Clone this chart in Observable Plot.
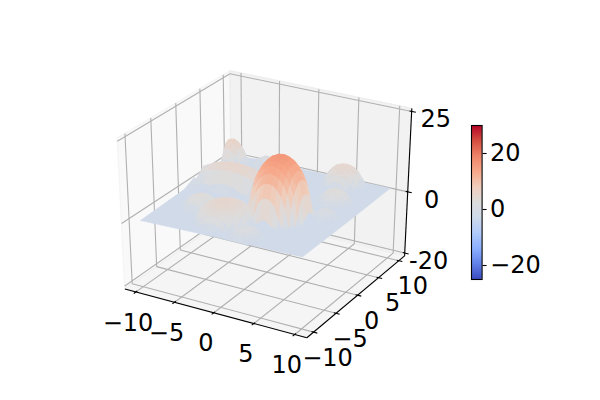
<!DOCTYPE html>
<html>
<head>
<meta charset="utf-8">
<style>
html,body{margin:0;padding:0;background:#fff}
#wrap{position:relative;width:600px;height:400px;overflow:hidden;font-family:"DejaVu Sans"}
#wrap svg{position:absolute;overflow:visible}
#wrap svg text{font-family:"DejaVu Sans"}
</style>
<script src="https://cdn.jsdelivr.net/npm/d3@7"></script>
<script src="https://cdn.jsdelivr.net/npm/@observablehq/plot@0.6"></script>
</head>
<body>
<div id="wrap"></div>
<script>
// Flat part of the surface
const planeX = [-10,0,10];
const planeY = [-10,0,10];
const planeZ = [[0.3,1,1.5],[1,1,1.5],[1,1.5,1.8]];
const b = 1;
// Bumps of the surface, heights
const xsA = [-1,-.5,0,.5,1,1.5,2,2.5,3,3.5,4,4.5,5,5.5,6];
const ysA = [-5,-4.5,-4,-3.5,-3,-2.5,-2,-1.5,-1,-.5,0,.5,1,1.5,2];
const zsA = [
[b,b,b,b,b,b,2,3,2,b,b,b,b,b,b],
[b,b,b,b,3.1,7,8.5,8.9,8.5,7,3.1,b,b,b,b],
[b,b,b,6.4,9.8,11.6,12.6,12.9,12.6,11.6,9.8,6.4,b,b,b],
[b,b,6.4,10.5,12.9,14.3,15.1,15.4,15.1,14.3,12.9,10.5,6.4,b,b],
[b,3.1,9.8,12.9,14.8,16.1,16.8,17,16.8,16.1,14.8,12.9,9.8,3.1,b],
[2,7,11.6,14.3,16.1,17.3,17.9,18.2,17.9,17.3,16.1,14.3,11.6,7,2],
[3,8.5,12.6,15.1,16.8,17.9,18.6,18.8,18.6,17.9,16.8,15.1,12.6,8.5,3],
[3.5,8.9,12.9,15.4,17,18.2,18.8,19,18.8,18.2,17,15.4,12.9,8.9,3.5],
[3,8.5,12.6,15.1,16.8,17.9,18.6,18.8,18.6,17.9,16.8,15.1,12.6,8.5,3],
[2,7,11.6,14.3,16.1,17.3,17.9,18.2,17.9,17.3,16.1,14.3,11.6,7,2],
[b,3.1,9.8,12.9,14.8,16.1,16.8,17,16.8,16.1,14.8,12.9,9.8,3.1,b],
[b,b,6.4,10.5,12.9,14.3,15.1,15.4,15.1,14.3,12.9,10.5,6.4,b,b],
[b,b,b,6.4,9.8,11.6,12.6,12.9,12.6,11.6,9.8,6.4,b,b,b],
[b,b,b,b,3.1,7,8.5,8.9,8.5,7,3.1,b,b,b,b],
[b,b,b,b,b,b,2,3,2,b,b,b,b,b,b]
];
const xsJ = [-5.5,-5,-4.5,-4,-3.5,-3,-2.5,-2,-1.5,-1,-.5,0,.5,1,1.5];
const ysJ = [-9,-8.5,-8,-7.5,-7,-6.5,-6,-5.5,-5,-4.5,-4,-3.5,-3,-2.5,-2];
const zsJ = [
[b,b,b,b,b,b,b,b,b,b,b,b,b,b,b],
[b,b,b,b,b,1.9,2.5,2.7,2.5,1.9,b,b,b,b,b],
[b,b,b,1.6,3,3.8,4.1,4.2,4.1,3.8,3,1.6,b,b,b],
[b,b,1.6,3.3,4.2,4.8,5.1,5.2,5.1,4.8,4.2,3.3,1.6,b,b],
[b,b,3,4.2,5,5.4,5.7,5.8,5.7,5.4,5,4.2,3,b,b],
[b,1.9,3.8,4.8,5.4,5.9,6.1,6.2,6.1,5.9,5.4,4.8,3.8,1.9,b],
[b,2.5,4.1,5.1,5.7,6.1,6.4,6.4,6.4,6.1,5.7,5.1,4.1,2.5,b],
[b,2.7,4.2,5.2,5.8,6.2,6.4,6.5,6.4,6.2,5.8,5.2,4.2,2.7,b],
[b,2.5,4.1,5.1,5.7,6.1,6.4,6.4,6.4,6.1,5.7,5.1,4.1,2.5,b],
[b,1.9,3.8,4.8,5.4,5.9,6.1,6.2,6.1,5.9,5.4,4.8,3.8,1.9,b],
[b,b,3,4.2,5,5.4,5.7,5.8,5.7,5.4,5,4.2,3,b,b],
[b,b,1.6,3.3,4.2,4.8,5.1,5.2,5.1,4.8,4.2,3.3,1.6,b,b],
[b,b,b,1.6,3,3.8,4.1,4.2,4.1,3.8,3,1.6,b,b,b],
[b,b,b,b,b,1.9,2.5,2.7,2.5,1.9,b,b,b,b,b],
[b,b,b,b,b,b,b,b,b,b,b,b,b,b,b]
];
const xsI = [-8,-7.5,-7,-6.5,-6,-5.5,-5,-4.5,-4];
const ysI = [-6,-5.5,-5,-4.5,-4,-3.5,-3,-2.5,-2];
const zsI = [
[b,b,b,b,b,b,b,b,b],
[b,b,1.9,2.8,3,2.8,1.9,b,b],
[b,1.9,3.2,3.7,3.9,3.7,3.2,1.9,b],
[b,2.8,3.7,4.2,4.4,4.2,3.7,2.8,b],
[b,3,3.9,4.4,4.5,4.4,3.9,3,b],
[b,2.8,3.7,4.2,4.4,4.2,3.7,2.8,b],
[b,1.9,3.2,3.7,3.9,3.7,3.2,1.9,b],
[b,b,1.9,2.8,3,2.8,1.9,b,b],
[b,b,b,b,b,b,b,b,b]
];
const xsK = [0,.5,1,1.5,2,2.5,3,3.5,4];
const ysK = [-10,-9.5,-9,-8.5,-8,-7.5,-7,-6.5,-6];
const zsK = [
[b,b,b,b,b,b,b,b,b],
[b,b,1.3,1.8,2,1.8,1.3,b,b],
[b,1.3,2.1,2.5,2.6,2.5,2.1,1.3,b],
[b,1.8,2.5,2.8,2.9,2.8,2.5,1.8,b],
[b,2,2.6,2.9,3,2.9,2.6,2,b],
[b,1.8,2.5,2.8,2.9,2.8,2.5,1.8,b],
[b,1.3,2.1,2.5,2.6,2.5,2.1,1.3,b],
[b,b,1.3,1.8,2,1.8,1.3,b,b],
[b,b,b,b,b,b,b,b,b]
];
const xsF = [2,2.5,3,3.5,4,4.5,5,5.5,6,6.5,7];
const ysF = [7,7.5,8,8.5,9,9.5,10];
const zsF = [
[b,b,b,b,b,b,b,b,b,b,b],
[b,b,b,1.5,2.9,3.2,2.9,1.5,b,b,b],
[b,b,2.5,4,4.7,4.9,4.7,4,2.5,b,b],
[b,1.5,4,5.1,5.7,5.9,5.7,5.1,4,1.5,b],
[b,2.9,4.7,5.7,6.2,6.3,6.2,5.7,4.7,2.9,b],
[b,3.2,4.9,5.9,6.3,6.5,6.3,5.9,4.9,3.2,b],
[b,2.9,4.7,5.7,6.2,6.3,6.2,5.7,4.7,2.9,b]
];
const xsG = [4,4.5,5,5.5,6,6.5,7,7.5,8];
const ysG = [2.5,3,3.5,4,4.5,5,5.5,6,6.5];
const zsG = [
[b,b,b,b,b,b,b,b,b],
[b,b,b,2.2,2.5,2.2,b,b,b],
[b,b,2.8,3.5,3.7,3.5,2.8,b,b],
[b,2.2,3.5,4.1,4.3,4.1,3.5,2.2,b],
[b,2.5,3.7,4.3,4.5,4.3,3.7,2.5,b],
[b,2.2,3.5,4.1,4.3,4.1,3.5,2.2,b],
[b,b,2.8,3.5,3.7,3.5,2.8,b,b],
[b,b,b,2.2,2.5,2.2,b,b,b],
[b,b,b,b,b,b,b,b,b]
];
const xsH = [5.5,6,6.5,7,7.5,8,8.5];
const ysH = [-1,-.5,0,.5,1,1.5,2];
const zsH = [
[b,b,b,b,b,b,b],
[b,b,1.8,2.1,1.8,b,b],
[b,1.8,2.6,2.8,2.6,1.8,b],
[b,2,2.8,3,2.8,2,b],
[b,1.8,2.6,2.8,2.6,1.8,b],
[b,b,1.8,2.1,1.8,b,b],
[b,b,b,b,b,b,b]
];
const xsB = [-10,-9.5,-9,-8.5,-8,-7.5];
const ysB = [6.5,7,7.5,8,8.5,9,9.5,10];
const zsB = [
[b,b,b,b,b,b],
[2.7,3.2,2.7,1.2,b,b],
[5.5,6,5.5,3.8,1.2,b],
[7,7.5,7,5.5,2.7,b],
[7.5,8,7.5,6,3.2,b],
[7,7.5,7,5.5,2.7,b],
[5.5,6,5.5,3.8,1.2,b],
[2.7,3.2,2.7,1.2,b,b]
];
const xsC = [-10,-9,-8,-7,-6,-5,-4,-3,-2,-1];
const ysC = [0,1,2,3,4,5,6];
const zsC = [
[b,b,b,b,b,b,b,b,b,b],
[b,b,b,2.4,2.7,2.4,b,b,b,b],
[2.7,4.4,5.3,5.7,5.9,5.7,5.3,4.4,2.7,b],
[4.3,5.5,6.2,6.6,6.8,6.6,6.2,5.5,4.3,1.8],
[3.7,5.1,5.9,6.3,6.4,6.3,5.9,5.1,3.7,b],
[b,2.2,3.7,4.3,4.5,4.3,3.7,2.2,b,b],
[b,b,b,b,b,b,b,b,b,b]
];
const xsD = [-10,-9,-8];
const ysD = [-1,0,1,2];
const zsD = [[b,b,b],[1.8,1.2,b],[2.6,1.5,b],[b,b,b]];
const xsE = [-8,-7,-6,-5,-4,-3];
const ysE = [8,9,10];
const zsE = [[b,b,b,b,b,b],[b,b,2.8,2.8,b,b],[b,1.5,3.2,3.2,1.5,b]];
const bumps = [[xsA,ysA,zsA],[xsJ,ysJ,zsJ],[xsI,ysI,zsI],[xsK,ysK,zsK],[xsF,ysF,zsF],[xsG,ysG,zsG],[xsH,ysH,zsH],[xsB,ysB,zsB],[xsC,ysC,zsC],[xsD,ysD,zsD],[xsE,ysE,zsE]];

const xTicks = [-10,-5,0,5,10];
const yTicks = [-10,-5,0,5,10];
const zTicks = [-20,0,25];
const xTickLabels = ["\u221210","\u22125","0","5","10"];
const yTickLabels = ["\u221210","\u22125","0","5","10"];
const zTickLabels = ["-20","0","25"];
const colorValues = [-25,-19.5,-14,-8.5,-3,2.5,8,13.5,19,24.5,30];
const colorStops = ["#3b4cc0","#6282ea","#8db0fe","#b1cbfa","#cfdaea","#dddcdc","#f0cdbb","#f7a889","#ee8468","#d44e41","#b40426"];
const colorbarTicks = [-20,0,20];
const shadeIn = [1,3,7,19];
const shadeOut = [-2.5,1.5,5.5,16];
const fontPx = 24;

// 3D view: elevation 30, azimuth -60, cube of half-size 1, camera distance 20
const view = {el: 30, az: -60, dist: 20, limXY: 11, zMid: 2.5, zHalf: 22.5, boxXY: 11.458, zLo: -20.94, zHi: 25.94};
const el = view.el*Math.PI/180, az = view.az*Math.PI/180;
const f = [Math.cos(el)*Math.cos(az), Math.cos(el)*Math.sin(az), Math.sin(el)];
const r = [-Math.sin(az), Math.cos(az), 0];
const u = [f[1]*r[2]-f[2]*r[1], f[2]*r[0]-f[0]*r[2], f[0]*r[1]-f[1]*r[0]];
const dot = (a,p) => a[0]*p[0]+a[1]*p[1]+a[2]*p[2];
const world = (x,y,z) => [x/view.limXY, y/view.limXY, (z-view.zMid)/view.zHalf];
function proj(x,y,z){
  const p = world(x,y,z);
  const k = view.dist/(view.dist-dot(f,p));
  return {x: dot(r,p)*k, y: dot(u,p)*k, depth: dot(f,p)};
}
const B = view.boxXY, Zl = view.zLo, Zh = view.zHi;
const shade = d3.scaleLinear(shadeIn, shadeOut);

const polygon = (id, pts) => pts.concat([pts[0]]).map(q => ({id, ...proj(...q)}));
const paneX = polygon("x",[[-B,-B,Zl],[-B,B,Zl],[-B,B,Zh],[-B,-B,Zh]]);
const paneY = polygon("y",[[-B,B,Zl],[B,B,Zl],[B,B,Zh],[-B,B,Zh]]);
const paneZ = polygon("z",[[-B,-B,Zl],[B,-B,Zl],[B,B,Zl],[-B,B,Zl]]);

const seg = (a,b2) => { const p=proj(...a), q=proj(...b2); return {x1:p.x,y1:p.y,x2:q.x,y2:q.y}; };
const gridLines = [
  ...xTicks.flatMap(t => [seg([t,-B,Zl],[t,B,Zl]), seg([t,B,Zl],[t,B,Zh])]),
  ...yTicks.flatMap(t => [seg([-B,t,Zl],[B,t,Zl]), seg([-B,t,Zl],[-B,t,Zh])]),
  ...zTicks.flatMap(t => [seg([-B,-B,t],[-B,B,t]), seg([-B,B,t],[B,B,t])])
];
const axisLines = [seg([-B,-B,Zl],[B,-B,Zl]), seg([B,-B,Zl],[B,B,Zl]), seg([B,B,Zl],[B,B,Zh])];
const tickMarks = [
  ...xTicks.map(t => seg([t,-B+0.25,Zl],[t,-B-0.45,Zl])),
  ...yTicks.map(t => seg([B-0.25,t,Zl],[B+0.45,t,Zl])),
  ...zTicks.map(t => seg([B-0.25,B,t],[B+0.5,B,t]))
];
const xLabels = xTicks.map((t,i) => ({...proj(t,-B,Zl), label:xTickLabels[i]}));
const yLabels = yTicks.map((t,i) => ({...proj(B,t,Zl), label:yTickLabels[i]}));
const zLabels = zTicks.map((t,i) => ({...proj(B,B,t), label:zTickLabels[i]}));

// Cells of a grid, as closed outlines coloured by mean height
let cellId = 0;
function cellsOf(xs,ys,zs,dropFlat){
  const out = [];
  for (let j=0;j<ys.length-1;j++) for (let i=0;i<xs.length-1;i++){
    const c = [[i,j],[i+1,j],[i+1,j+1],[i,j+1]].map(([a,d]) => [xs[a],ys[d],zs[d][a]]);
    if (dropFlat && c.every(q => q[2]===b)) continue;
    out.push({v:shade(dropFlat ? d3.mean(c,q=>q[2]) : b), depth:d3.mean(c,q=>proj(...q).depth), c});
  }
  return out;
}
const outline = list => list.flatMap(cell => { const id=cellId++; return cell.c.concat([cell.c[0]]).map(q => ({cell:id, v:cell.v, ...proj(...q)})); });
const planeCells = outline(cellsOf(planeX,planeY,planeZ,false));
const bumpCells = outline(bumps.flatMap(([xs,ys,zs]) => cellsOf(xs,ys,zs,true)).sort((p,q)=>p.depth-q.depth));

const W=600, H=400, cx=266.5, cy=199, Sx=100.8, Sy=82.6;
const colorScale = {type:"linear", domain:colorValues, range:colorStops, interpolate:"rgb"};
const textOpts = {x:"x", y:"y", text:"label", fontSize:fontPx, fontFamily:"DejaVu Sans", fill:"#000", textAnchor:"middle", lineAnchor:"middle"};

const main = Plot.plot({
  width:W, height:H, margin:0,
  style:{background:"transparent", fontFamily:"DejaVu Sans"},
  x:{domain:[(0-cx)/Sx,(W-cx)/Sx], range:[0,W], axis:null},
  y:{domain:[cy/Sy,(cy-H)/Sy], range:[0,H], axis:null},
  color:colorScale,
  marks:[
    Plot.line(paneX,{x:"x",y:"y",fill:"#f9f9f9",stroke:"#f5f5f5"}),
    Plot.line(paneY,{x:"x",y:"y",fill:"#f2f2f2",stroke:"#eeeeee"}),
    Plot.line(paneZ,{x:"x",y:"y",fill:"#f5f5f5",stroke:"#f0f0f0"}),
    Plot.link(gridLines,{x1:"x1",y1:"y1",x2:"x2",y2:"y2",stroke:"#b0b0b0",strokeWidth:1.1}),
    Plot.link(axisLines,{x1:"x1",y1:"y1",x2:"x2",y2:"y2",stroke:"#000",strokeWidth:1.1}),
    Plot.link(tickMarks,{x1:"x1",y1:"y1",x2:"x2",y2:"y2",stroke:"#000",strokeWidth:1.1}),
    Plot.line(planeCells,{x:"x",y:"y",z:"cell",fill:"v",stroke:"v",strokeWidth:0.5}),
    Plot.line(bumpCells,{x:"x",y:"y",z:"cell",fill:"v",stroke:"v",strokeWidth:0.4}),
    Plot.text(xLabels,{...textOpts,dx:-8,dy:31}),
    Plot.text(yLabels,{...textOpts,dx:14,dy:26}),
    Plot.text(zLabels,{...textOpts,dx:24,dy:8})
  ]
});
main.style.left="0px"; main.style.top="0px";

// Colorbar with its own scale and axis
const levels = d3.range(-25,30,0.25);
const bar = Plot.plot({
  width:125, height:174, marginLeft:0, marginRight:114.4, marginTop:10, marginBottom:10,
  style:{background:"transparent", fontFamily:"DejaVu Sans", overflow:"visible"},
  x:{domain:[0,1], axis:null},
  y:{domain:[-25,30], axis:null},
  color:colorScale,
  marks:[
    Plot.rect(levels,{x1:0,x2:1,y1:d=>d,y2:d=>Math.min(d+0.75,30),fill:d=>d+0.125}),
    Plot.frame({stroke:"#000",strokeWidth:1.1}),
    Plot.axisY({anchor:"right",ticks:colorbarTicks,tickSize:4,tickPadding:4,fontSize:fontPx,fontFamily:"DejaVu Sans",stroke:"#000",strokeWidth:1.1,color:"#000",label:null})
  ]
});
bar.style.left="470.6px"; bar.style.top="115.3px";
document.getElementById("wrap").append(main,bar);
</script>
</body>
</html>
